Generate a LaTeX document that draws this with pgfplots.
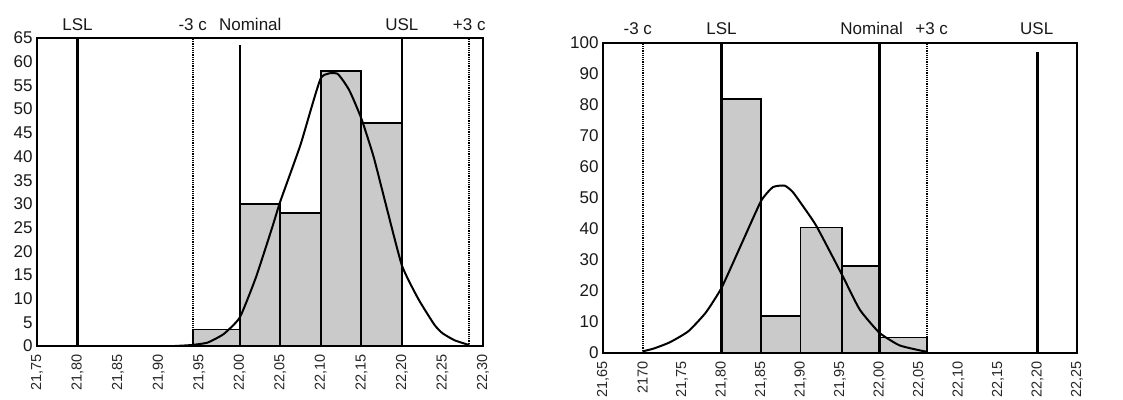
\documentclass[border=0pt]{standalone}
\usepackage{pgfplots}
\pgfplotsset{compat=1.18}
\usepackage{fontspec}
\setmainfont{Liberation Sans}
\definecolor{barfill}{RGB}{202,202,202}
\pgfplotsset{
  hist/.style={
    scale only axis, clip=false,
    axis line style={line width=2.2pt},
    major tick length=0pt,
    ymin=0,
    x tick label style={rotate=90, anchor=east, font=\fontsize{14.5}{14.5}\selectfont, text=black!85},
    y tick label style={font=\fontsize{17}{17}\selectfont, text=black!90},
    /pgf/number format/assume math mode=true,
    xticklabel shift=5pt, yticklabel shift=1pt,
  },
}
\tikzset{
  bar/.style={fill=barfill, draw=black, line width=1.8pt},
  spec/.style={black, line width=2.4pt},
  sig/.style={black, line width=2pt, dash pattern=on 1.2pt off 1pt},
  curve/.style={black, line width=2pt, smooth, tension=0.3},
  lab/.style={anchor=base, font=\fontsize{17}{17}\selectfont, text=black!90},
}
\begin{document}
\begin{tikzpicture}
\path[use as bounding box] (0,0) rectangle (1123pt,399pt);
% ---------------- left chart ----------------
\begin{axis}[hist, at={(37pt,53pt)}, anchor=south west,
  width=446pt, height=308pt,
  xmin=21.75, xmax=22.30, ymax=65,
  xtick={21.75,21.80,21.85,21.90,21.95,22.00,22.05,22.10,22.15,22.20,22.25,22.30},
  xticklabels={{21,75},{21,80},{21,85},{21,90},{21,95},{22,00},{22,05},{22,10},{22,15},{22,20},{22,25},{22,30}},
  ytick={0,5,...,65}]
\addplot[bar] coordinates {(21.942,0)(21.942,3.5)(22.00,3.5)(22.00,0)} --cycle;
\addplot[bar] coordinates {(22.00,0)(22.00,30)(22.05,30)(22.05,0)} --cycle;
\addplot[bar] coordinates {(22.05,0)(22.05,28)(22.10,28)(22.10,0)} --cycle;
\addplot[bar] coordinates {(22.10,0)(22.10,58)(22.15,58)(22.15,0)} --cycle;
\addplot[bar] coordinates {(22.15,0)(22.15,47)(22.20,47)(22.20,0)} --cycle;
\addplot[spec] coordinates {(21.80,0)(21.80,65)};
\addplot[spec] coordinates {(22.00,0)(22.00,63.5)};
\addplot[spec] coordinates {(22.20,0)(22.20,65)};
\addplot[sig] coordinates {(21.942,0)(21.942,65)};
\addplot[sig] coordinates {(22.283,0)(22.283,65)};
\addplot[curve] coordinates {(21.92,0)(21.94,0.2)(21.96,0.7)(21.98,2.5)(22.00,6)(22.02,14.5)(22.04,25)(22.05,30.5)(22.075,42.5)(22.10,56.5)(22.12,57.5)(22.135,54)(22.15,48)(22.165,40)(22.18,30)(22.20,17)(22.22,10)(22.24,4.5)(22.25,2.7)(22.265,1.2)(22.283,0.2)};
\node[lab] at (axis cs:21.80,65) [yshift=8pt] {LSL};
\node[lab] at (axis cs:21.942,65) [yshift=8pt] {-3 c};
\node[lab] at (axis cs:22.013,65) [yshift=8pt] {Nominal};
\node[lab] at (axis cs:22.20,65) [yshift=8pt] {USL};
\node[lab] at (axis cs:22.283,65) [yshift=8pt] {+3 c};
\end{axis}
% ---------------- right chart ----------------
\begin{axis}[hist, at={(603pt,46pt)}, anchor=south west,
  width=474pt, height=310pt,
  xmin=21.65, xmax=22.25, ymax=100,
  xtick={21.65,21.70,21.75,21.80,21.85,21.90,21.95,22.00,22.05,22.10,22.15,22.20,22.25},
  xticklabels={{21,65},{2170},{21,75},{21,80},{21,85},{21,90},{21,95},{22,00},{22,05},{22,10},{22,15},{22,20},{22,25}},
  ytick={0,10,...,100}]
\addplot[bar] coordinates {(21.80,0)(21.80,82)(21.85,82)(21.85,0)} --cycle;
\addplot[bar] coordinates {(21.85,0)(21.85,12)(21.90,12)(21.90,0)} --cycle;
\addplot[bar] coordinates {(21.90,0)(21.90,40.5)(21.953,40.5)(21.953,0)} --cycle;
\addplot[bar] coordinates {(21.953,0)(21.953,28)(22.00,28)(22.00,0)} --cycle;
\addplot[bar] coordinates {(22.00,0)(22.00,5)(22.06,5)(22.06,0)} --cycle;
\addplot[spec] coordinates {(21.80,0)(21.80,100)};
\addplot[spec] coordinates {(22.00,0)(22.00,100)};
\addplot[spec] coordinates {(22.20,0)(22.20,97)};
\addplot[sig] coordinates {(21.70,0)(21.70,100)};
\addplot[sig] coordinates {(22.06,0)(22.06,100)};
\addplot[curve] coordinates {(21.70,0.5)(21.715,1.5)(21.735,3.5)(21.758,7)(21.78,13)(21.80,21)(21.825,35)(21.85,49)(21.865,53.5)(21.88,54)(21.89,52)(21.90,48.5)(21.92,41)(21.953,25)(21.975,14)(22.00,6.5)(22.025,2.5)(22.05,0.9)(22.06,0.4)};
\node[lab] at (axis cs:21.694,100) [yshift=8pt] {-3 c};
\node[lab] at (axis cs:21.80,100) [yshift=8pt] {LSL};
\node[lab] at (axis cs:21.99,100) [yshift=8pt] {Nominal};
\node[lab] at (axis cs:22.066,100) [yshift=8pt] {+3 c};
\node[lab] at (axis cs:22.199,100) [yshift=8pt] {USL};
\end{axis}
\end{tikzpicture}
\end{document}
